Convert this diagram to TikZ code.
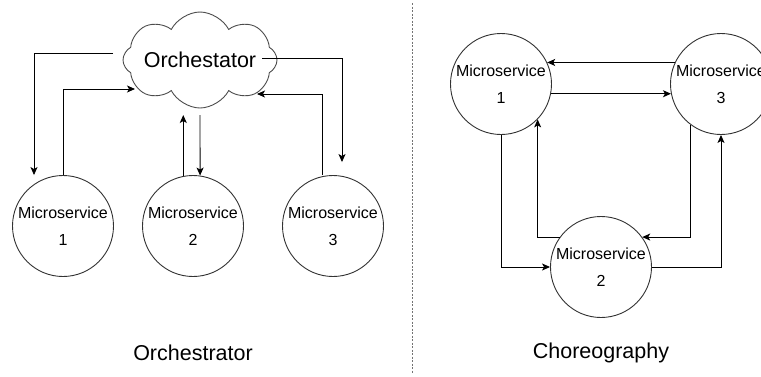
\documentclass[tikz,border=0pt]{standalone}
\usepackage{fontspec}
\setmainfont{Liberation Sans}
\usetikzlibrary{shapes.symbols,arrows.meta,positioning}

\begin{document}
\begin{tikzpicture}[x=1pt, y=-1pt, line width=0.9pt, >={Stealth[length=8pt,width=7pt,inset=2pt]}, on grid,
    service/.style={circle, draw=black!80, minimum size=101pt, inner sep=0pt, align=center, font=\fontsize{16}{27}\selectfont},
    caption/.style={font=\fontsize{21.5}{26}\selectfont}]
   \useasboundingbox (0,0) rectangle (761,376);
   % orchestration
   \node[cloud, cloud puffs=8, cloud puff arc=125, cloud ignores aspect, draw=black!70, minimum width=154pt, minimum height=96pt,
         inner sep=0pt, caption] (orch) at (200,60) {\makebox[0pt]{Orchestator}};
   \node[service] (m1) at (63,226)          {Microservice\\1};
   \node[service] (m2) [right=130pt of m1] {Microservice\\2};
   \node[service] (m3) [right=140pt of m2] {Microservice\\3};
   \coordinate (o2) at ([yshift=-55pt]orch.center);
   \draw[->] ([shift={(-87pt,7pt)}]orch.center) -| ([xshift=-29pt]m1.north);
   \draw[->] (m1.north) |- ([shift={(-65pt,-29pt)}]orch.center);
   \draw[->] (m2.101) -- (m2.101 |- o2);
   \draw[->] (o2) -- (m2.82);
   \draw[->] ([shift={(62pt,2pt)}]orch.center) -| ([shift={(9pt,13pt)}]m3.north);
   \draw[->] ([xshift=-11pt]m3.north) |- ([shift={(57pt,-34pt)}]orch.center);
   % choreography
   \node[service] (r1) at (501,84)                         {Microservice\\1};
   \node[service] (r3) [right=220pt of r1]                 {Microservice\\3};
   \node[service] (r2) [below right=183pt and 100pt of r1] {Microservice\\2};
   \draw[->] (r3.155)   -- (r1.25);
   \draw[->] (r1.-11.5) -- (r3.191.5);
   \draw[->] (r1.south) |- (r2.west);
   \draw[->] (r2.144)   -| (r1.-44);
   \draw[->] (r3.233)   |- (r2.36);
   \draw[->] (r2.east)  -| (r3.south);
   % separator and captions
   \draw[black!55, line width=0.8pt, dash pattern=on 2pt off 1.5pt] (412,3) -- (412,374);
   \node[caption] (capo) at (193,353) {Orchestrator};
   \node[caption] (capc) at (601,353) {Choreography};
\end{tikzpicture}
\end{document}
